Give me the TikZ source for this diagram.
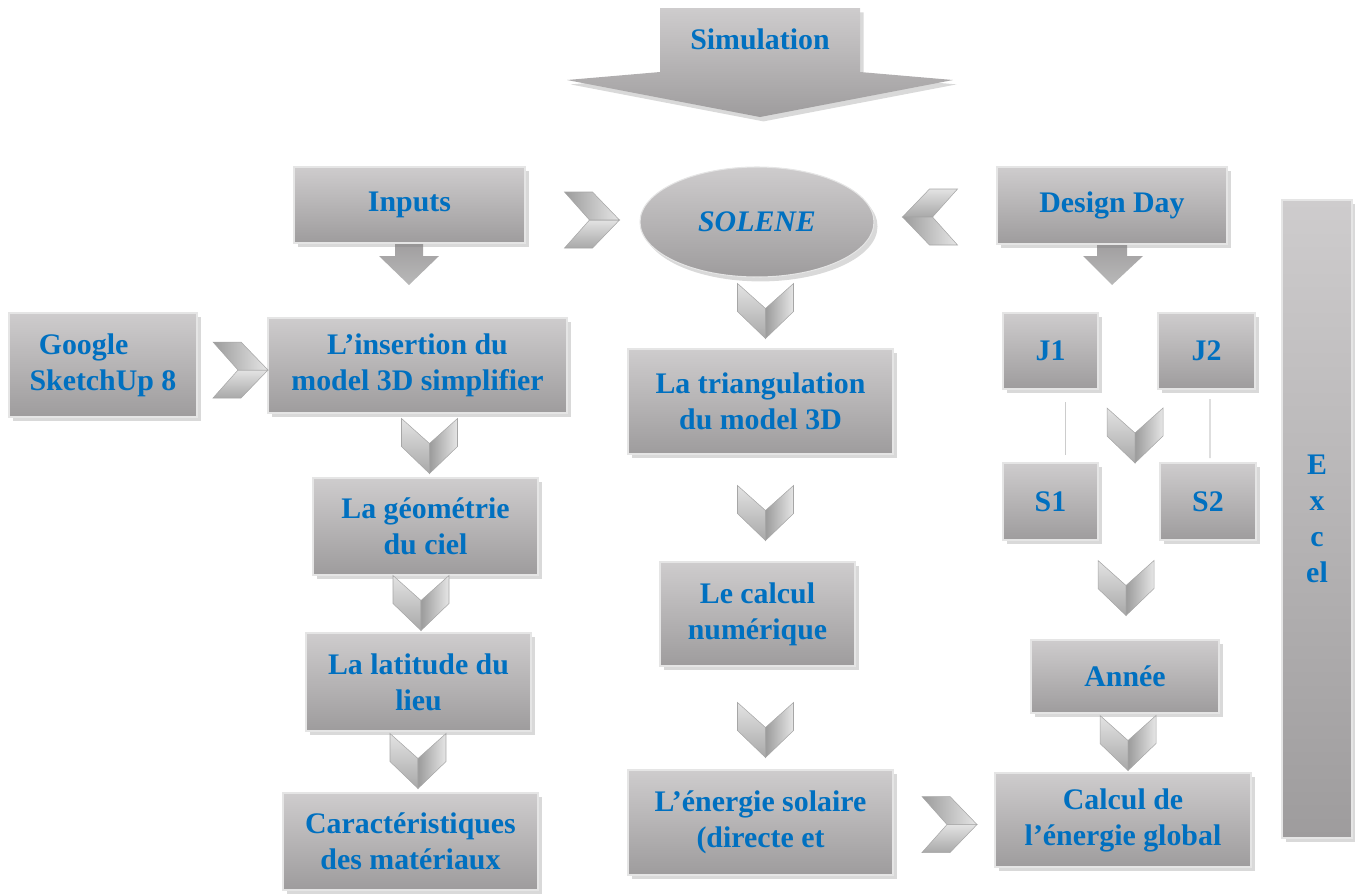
\documentclass[tikz,border=0pt]{standalone}
\usepackage{fontspec}
\setmainfont{Liberation Serif}
\usetikzlibrary{shapes.geometric,shadows}

\definecolor{txtblue}{RGB}{0,112,192}
\definecolor{boxtop}{RGB}{206,204,205}
\definecolor{boxbot}{RGB}{158,156,157}

\tikzset{
  box/.style={draw=white!80!gray, line width=0.6pt, top color=boxtop, bottom color=boxbot,
    drop shadow={shadow xshift=2pt, shadow yshift=-2.5pt, opacity=0.3, fill=gray},
    text=txtblue, font=\fontsize{17}{20.5}\selectfont\bfseries, align=center,
    inner sep=2pt, outer sep=0pt},
  sz/.style 2 args={minimum width=#1*0.02cm, minimum height=#2*0.02cm},
  link/.style={draw=gray!40, line width=0.8pt},
  chev/.pic={
    \shade[top color=gray!22, bottom color=gray!68, draw=gray!70, line width=0.3pt]
      (-28,-27) -- (0,-2) -- (0,28) -- (-28,1) -- cycle;
    \shade[left color=gray!78, right color=gray!20, draw=gray!70, line width=0.3pt]
      (0,-2) -- (28,-27) -- (28,1) -- (0,28) -- cycle;
  }
}

\begin{document}
\begin{tikzpicture}[x=0.02cm, y=-0.02cm]
  \useasboundingbox (0,0) rectangle (1355,894);

  % big arrow on top
  \shade[top color=boxtop, bottom color=boxbot, drop shadow={shadow xshift=2pt, shadow yshift=-2.5pt, opacity=0.3, fill=gray}]
    (660,8) -- (860,8) -- (860,72) -- (953,80) -- (760,117) -- (567,80) -- (660,72) -- cycle;
  \node[text=txtblue, font=\fontsize{17}{20.5}\selectfont\bfseries] (simul) at (760,39) {Simulation};

  % arrows under the two heads
  \shade[top color=boxbot, bottom color=gray!55] (395,240) -- (423,240) -- (423,256) -- (439,256)
    -- (409,285) -- (379,256) -- (395,256) -- cycle;
  \shade[top color=boxbot, bottom color=gray!55] (1097,240) -- (1127,240) -- (1127,256) -- (1143,256)
    -- (1112,285) -- (1083,256) -- (1097,256) -- cycle;

  \node[box, sz={231}{76}] (inputs) at (409.5,205) {Inputs};
  \node[box, sz={230}{77}] (dday) at (1112,205.5) {Design Day};
  \node[box, ellipse, sz={234}{110}, font=\fontsize{17}{20.5}\selectfont\bfseries\itshape] (solene) at (757,222) {SOLENE};

  % left column
  \node[box, sz={188}{104}] (google) at (103,365) {Google\hspace*{1.3em}\\SketchUp 8};
  \node[box, sz={299}{95}] (insert) at (417.5,365.5) {L’insertion du\\model 3D simplifier};
  \node[box, sz={225}{97}] (geom) at (425.5,526.5) {La géométrie\\du ciel};
  \node[box, sz={225}{98}] (latit) at (418.5,682) {La latitude du\\lieu};
  \node[box, sz={255}{97}] (carac) at (410.5,841.5) {Caractéristiques\\des matériaux};

  % middle column
  \node[box, sz={265}{105}] (triang) at (760.5,401.5) {La triangulation\\du model 3D};
  \node[box, sz={195}{104}] (calnum) at (757.5,614) {Le calcul\\numérique};
  \node[box, sz={265}{105}] (energ) at (760.5,822.5) {L’énergie solaire\\(directe et};

  % right column
  \node[box, sz={95}{76}] (j1) at (1050.5,351) {J1};
  \node[box, sz={97}{76}] (j2) at (1206.5,351) {J2};
  \node[box, sz={95}{77}] (s1) at (1050.5,501.5) {S1};
  \node[box, sz={96}{77}] (s2) at (1208,501.5) {S2};
  \node[box, sz={188}{73}] (annee) at (1125,676.5) {Année};
  \node[box, sz={256}{94}] (global) at (1123,820) {Calcul de\\l’énergie global};
  \node[box, sz={70}{638}] (excel) at (1317,519) {E\\x\\c\\el};

  \draw[link] ([xshift=0.3cm, yshift=-0.26cm]j1.south) -- ([xshift=0.3cm, yshift=0.16cm]s1.north);
  \draw[link] ([xshift=0.07cm, yshift=-0.2cm]j2.south) -- ([xshift=0.04cm, yshift=0.1cm]s2.north);

  % chevrons
  \pic[rotate=90] at (591.5,220) {chev};
  \pic[rotate=-90] at (930.5,217) {chev};
  \pic[rotate=90] at (240,370) {chev};
  \pic[rotate=90] at (949,824.5) {chev};
  \pic at (765.5,310.5) {chev};
  \pic at (765.5,512.5) {chev};
  \pic at (765.5,729.5) {chev};
  \pic at (429.5,445.5) {chev};
  \pic at (421,602.5) {chev};
  \pic at (418,760.5) {chev};
  \pic at (1135,435) {chev};
  \pic at (1126,587.5) {chev};
  \pic at (1128,742.5) {chev};
\end{tikzpicture}
\end{document}
